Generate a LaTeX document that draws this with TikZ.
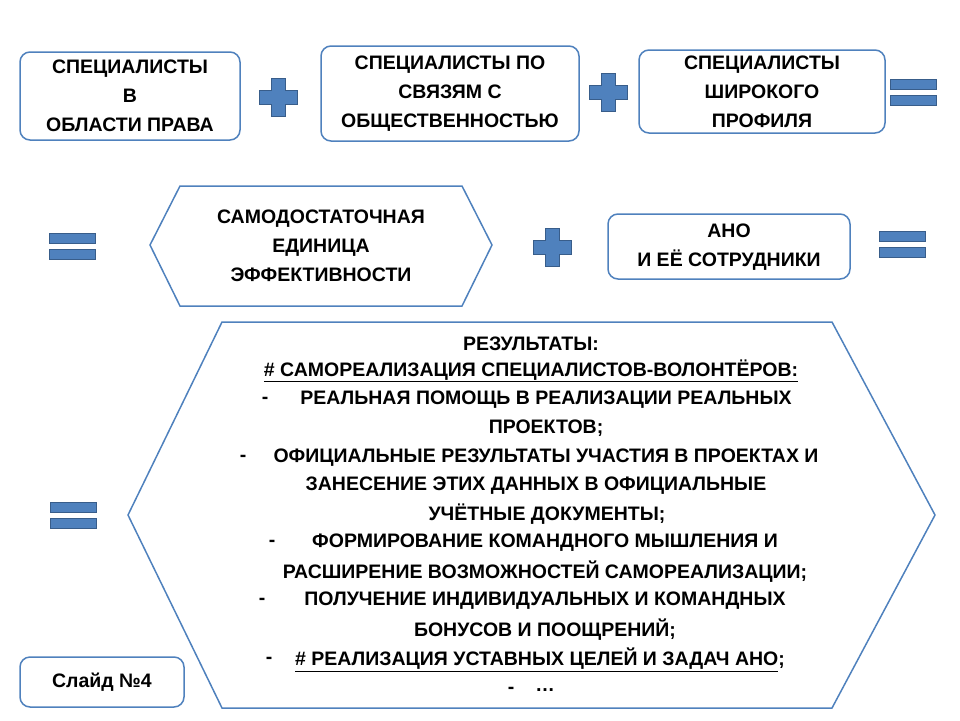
\documentclass[tikz,border=0pt]{standalone}
\usepackage{fontspec}
\setmainfont{Liberation Sans}
\usetikzlibrary{positioning,calc}
\definecolor{edge}{HTML}{4F81BD}
\definecolor{signfill}{HTML}{4F81BD}
\definecolor{signdraw}{HTML}{385D8A}
\tikzset{
    block/.style={
        draw=edge,
        line width=1.5pt,
        rectangle,
        rounded corners=10pt,
        align=center
    },
    hexa/.style={
        draw=edge,
        line width=1.5pt
    },
    sign/.style={
        fill=signfill,
        draw=signdraw,
        line width=1pt
    },
    txt/.style={
        font=\fontsize{19.5}{29}\selectfont\bfseries,
        align=center,
        inner sep=0pt
    },
}
\newcommand{\plussign}[2]{%
    \draw[sign] (#1-7,#2-19) -- (#1+7,#2-19) -- (#1+7,#2-7) -- (#1+19,#2-7) -- (#1+19,#2+7)
        -- (#1+7,#2+7) -- (#1+7,#2+19) -- (#1-7,#2+19) -- (#1-7,#2+7) -- (#1-19,#2+7)
        -- (#1-19,#2-7) -- (#1-7,#2-7) -- cycle;}
\newcommand{\equalsign}[2]{%
    \draw[sign] (#1-23,#2-13) rectangle (#1+23,#2-3);
    \draw[sign] (#1-23,#2+3) rectangle (#1+23,#2+13);}
\begin{document}
\begin{tikzpicture}[x=1pt,y=-1pt]
    \useasboundingbox (0,0) rectangle (960,720);
    % top row
    \draw[block] (20,52) rectangle (240,140);
    \node[txt] (law) at (130,96) {СПЕЦИАЛИСТЫ\\В\\ОБЛАСТИ ПРАВА};
    \draw[block] (321,46) rectangle (579,141);
    \node[txt] (pr) at (450,94) {СПЕЦИАЛИСТЫ ПО\\СВЯЗЯМ С\\ОБЩЕСТВЕННОСТЬЮ};
    \draw[block] (639,50) rectangle (885,133);
    \node[txt] (wide) at (762,92) {СПЕЦИАЛИСТЫ\\ШИРОКОГО\\ПРОФИЛЯ};
    \plussign{278}{97}
    \plussign{608}{92}
    \equalsign{913}{92}
    % middle row
    \equalsign{72}{246}
    \draw[hexa] (150,245) -- (180,186) -- (462,186) -- (492,245) -- (462,306) -- (180,306) -- cycle;
    \node[txt] (unit) at (321,246) {САМОДОСТАТОЧНАЯ\\ЕДИНИЦА\\ЭФФЕКТИВНОСТИ};
    \plussign{552}{247}
    \draw[block] (608,214) rectangle (850,279);
    \node[txt] (ano) at (729,247) {АНО\\И ЕЁ СОТРУДНИКИ};
    \equalsign{902}{244}
    % results
    \equalsign{73}{515}
    \draw[hexa] (128,515) -- (222,322) -- (832,322) -- (935,515) -- (832,708) -- (222,708) -- cycle;
    \node[txt] (res) at (531,344) {РЕЗУЛЬТАТЫ:};
    \node[txt] (self) at (531,371) {\underline{\# САМОРЕАЛИЗАЦИЯ СПЕЦИАЛИСТОВ-ВОЛОНТЁРОВ:}};
    \node[txt] (d1) at (265,400) {-};
    \node[txt] (r1) at (546,400) {РЕАЛЬНАЯ ПОМОЩЬ В РЕАЛИЗАЦИИ РЕАЛЬНЫХ};
    \node[txt] (r1b) at (546,428) {ПРОЕКТОВ;};
    \node[txt] (d2) at (243,458) {-};
    \node[txt] (r2) at (546,458) {ОФИЦИАЛЬНЫЕ РЕЗУЛЬТАТЫ УЧАСТИЯ В ПРОЕКТАХ И};
    \node[txt] (r2b) at (536,486) {ЗАНЕСЕНИЕ ЭТИХ ДАННЫХ В ОФИЦИАЛЬНЫЕ};
    \node[txt] (r2c) at (547,514) {УЧЁТНЫЕ ДОКУМЕНТЫ;};
    \node[txt] (d3) at (272,543) {-};
    \node[txt] (r3) at (545,543) {ФОРМИРОВАНИЕ КОМАНДНОГО МЫШЛЕНИЯ И};
    \node[txt] (r3b) at (545,572) {РАСШИРЕНИЕ ВОЗМОЖНОСТЕЙ САМОРЕАЛИЗАЦИИ;};
    \node[txt] (d4) at (262,601) {-};
    \node[txt] (r4) at (545,601) {ПОЛУЧЕНИЕ ИНДИВИДУАЛЬНЫХ И КОМАНДНЫХ};
    \node[txt] (r4b) at (545,630) {БОНУСОВ И ПООЩРЕНИЙ;};
    \node[txt] (d5) at (269,660) {-};
    \node[txt] (r5) at (540,660) {\underline{\# РЕАЛИЗАЦИЯ УСТАВНЫХ ЦЕЛЕЙ И ЗАДАЧ АНО};};
    \node[txt] (d6) at (511,690) {-};
    \node[txt] (r6) at (545,690) {…};
    % slide number
    \draw[block] (20,657) rectangle (184,707);
    \node[txt] (slide) at (102,682) {Слайд №4};
\end{tikzpicture}
\end{document}
